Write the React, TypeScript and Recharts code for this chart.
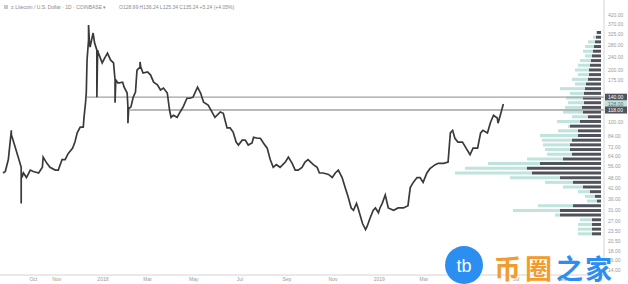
import React from "react";
import { ComposedChart, Line, XAxis, YAxis, ReferenceLine, BarChart, Bar } from "recharts";

// LTC/USD daily. Days counted from 1 Oct 2017.
// Repeated days are the long wicks (spike out and back).
const days = [
  -40, -37, -33, -29, -29, -26, -24, -20, -16, -16,
  -16, -15, -13, -9, -4, 0, 7, 12, 13, 18,
  22, 29, 33, 38, 42, 46, 52, 55, 58, 62,
  66, 67, 69, 70, 71, 73, 73, 74, 75, 79,
  81, 84, 84, 85, 86, 91, 95, 98, 102, 106,
  108, 108, 109, 112, 118, 120, 124, 125, 125, 126,
  129, 132, 135, 137, 141, 141, 142, 145, 151, 155,
  159, 164, 168, 172, 177, 180, 182, 185, 190, 194,
  198, 203, 207, 211, 217, 221, 225, 231, 236, 240,
  247, 251, 256, 260, 264, 268, 271, 276, 280, 284,
  289, 291, 296, 300, 304, 309, 313, 317, 321, 326,
  333, 337, 342, 346, 350, 355, 359, 363, 370, 375,
  378, 383, 390, 395, 399, 403, 408, 412, 416, 420,
  423, 427, 429, 435, 439, 441, 445, 449, 452, 456,
  458, 461, 465, 469, 476, 482, 489, 495, 498, 502,
  507, 511, 515, 520, 524, 531, 535, 542, 548, 551,
  554, 557, 561, 567, 571, 577, 581, 587, 591, 594,
  600, 604, 608, 613, 614, 617, 621,
];
const closes = [
  51, 52, 61, 90, 85, 77, 72, 63, 55, 34,
  52, 48, 51, 48, 53, 52, 51, 55, 63, 58,
  55, 53, 53, 61, 61, 66, 71, 77, 87, 94,
  94, 107, 130, 148, 230, 300, 366, 300, 273, 329,
  288, 262, 140, 262, 252, 221, 239, 252, 230, 221,
  176, 130, 176, 169, 171, 160, 148, 123, 99, 120,
  123, 140, 150, 201, 209, 224, 209, 193, 196, 188,
  171, 165, 154, 158, 148, 118, 107, 110, 107, 115,
  123, 138, 138, 140, 160, 148, 131, 126, 115, 107,
  115, 113, 93, 93, 88, 77, 74, 79, 79, 74,
  76, 82, 81, 81, 76, 71, 61, 55, 57, 55,
  59, 63, 58, 53, 53, 55, 59, 61, 57, 55,
  51, 51, 50, 48, 51, 53, 48, 42, 37, 32,
  31, 34, 32, 26, 24, 25, 28, 31, 32, 30,
  32, 34, 38, 32, 31, 32, 32, 33, 42, 45,
  48, 48, 45, 51, 54, 57, 58, 58, 59, 87,
  90, 81, 77, 77, 72, 65, 71, 71, 87, 90,
  87, 100, 110, 106, 99, 110, 128,
];

const monthTicks = [0, 31, 92, 151, 212, 273, 335, 396, 457, 516, 577, 638, 700];
const monthLabels = ["Oct", "Nov", "2018", "Mar", "May", "Jul", "Sep", "Nov", "2019", "Mar", "May", "Jul", "Sep"];

const levelHigh = 140;
const levelLow = 118;
const levelHighFrom = 71;
const levelLowFrom = 128;
const lastClose = closes[closes.length - 1];

const priceTicks = [
  420, 370, 325, 280, 240, 200, 175, levelHigh, lastClose, levelLow, 100, 84, 72, 64,
  56, 48, 42, 36, 31, 27, 23.5, 20.5, 18, 16, 14,
];

// volume profile rows, top (high price) to bottom
const profileDown = [
  4, 5, 6, 7, 8, 9, 10, 11, 12, 12,
  13, 15, 16, 17, 18, 17, 19, 18, 13, 21,
  31, 23, 23, 29, 31, 31, 29, 38, 61, 74,
  69, 41, 28, 18, 11, 6, 4, 28, 41, 41,
  9, 9, 9, 9,
];
const profileUp = [
  1, 3, 7, 9, 10, 7, 11, 12, 14, 11,
  16, 11, 25, 14, 17, 16, 17, 20, 16, 23,
  2, 20, 38, 30, 27, 25, 25, 36, 52, 62,
  77, 50, 28, 20, 12, 10, 10, 35, 47, 5,
  12, 14, 14, 14,
];

const series = days.map((d, i) => ({ d, close: closes[i] }));
const profile = profileDown.map((v, i) => ({ bin: i, down: v, up: profileUp[i] }));

const DARK = "#50535b";
const TEAL = "#bfe3dd";
const FONT = "'Liberation Sans', Arial, sans-serif";

function PriceTick(props: any) {
  const { x, y, payload } = props;
  const v = payload.value as number;
  const text = v.toFixed(2);
  if (v === levelHigh || v === levelLow || v === lastClose) {
    const teal = v === lastClose;
    return (
      <g>
        <rect x={x - 2} y={y - 3.5} width={22} height={7} fill={teal ? TEAL : DARK} />
        <text x={x + 1} y={y + 2} fontSize={5} fill={teal ? "#5d6b69" : "#fff"} fontFamily={FONT}>
          {text}
        </text>
      </g>
    );
  }
  return (
    <text x={x + 1} y={y + 2} fontSize={5} fill="#9a9a9a" fontFamily={FONT}>
      {text}
    </text>
  );
}

export default function App() {
  return (
    <div
      style={{
        position: "absolute",
        left: 0,
        top: 0,
        width: 628,
        height: 284,
        overflow: "hidden",
        background: "#fff",
        fontFamily: FONT,
      }}
    >
      <div style={{ position: "absolute", left: 401, top: 30 }}>
        <BarChart
          layout="vertical"
          width={200}
          height={206}
          data={profile}
          margin={{ top: 0, right: 0, bottom: 0, left: 0 }}
          barCategoryGap={1}
        >
          <XAxis type="number" domain={[0, 200]} reversed hide />
          <YAxis type="category" dataKey="bin" hide />
          <Bar dataKey="down" stackId="v" fill={DARK} isAnimationActive={false} />
          <Bar dataKey="up" stackId="v" fill={TEAL} isAnimationActive={false} />
        </BarChart>
      </div>

      <div style={{ position: "absolute", left: 0, top: 0 }}>
        <ComposedChart width={628} height={284} data={series} margin={{ top: 0, right: 0, bottom: 0, left: 0 }}>
          <XAxis
            dataKey="d"
            type="number"
            domain={[-44, 754]}
            allowDataOverflow
            ticks={monthTicks}
            interval={0}
            tickFormatter={(v: number) => monthLabels[monthTicks.indexOf(v)] ?? ""}
            height={9}
            axisLine={{ stroke: "#d4d4d4" }}
            tickLine={false}
            tickSize={0}
            tickMargin={2}
            tick={{ fontSize: 5, fill: "#9a9a9a", fontFamily: FONT }}
          />
          <YAxis
            orientation="right"
            type="number"
            scale="log"
            domain={[13.1, 511]}
            allowDataOverflow
            ticks={priceTicks}
            interval={0}
            width={24}
            axisLine={{ stroke: "#d4d4d4" }}
            tickLine={false}
            tickSize={0}
            tickMargin={3}
            tick={<PriceTick />}
          />
          <ReferenceLine
            segment={[
              { x: levelHighFrom, y: levelHigh },
              { x: 754, y: levelHigh },
            ]}
            stroke="#a2a2a2"
            strokeWidth={1.3}
          />
          <ReferenceLine
            segment={[
              { x: levelLowFrom, y: levelLow },
              { x: 754, y: levelLow },
            ]}
            stroke="#a2a2a2"
            strokeWidth={1.3}
          />
          <Line
            dataKey="close"
            type="linear"
            stroke="#3a3a3a"
            strokeWidth={1.7}
            dot={false}
            activeDot={false}
            isAnimationActive={false}
          />
        </ComposedChart>
      </div>

      <svg width={628} height={284} style={{ position: "absolute", left: 0, top: 0, pointerEvents: "none" }}>
        <rect x={4} y={5} width={4} height={4} fill="#c8c8c8" />
        <text x={11} y={9} fontSize={5} fill="#8a8a8a" fontFamily={FONT}>
          ≡ Litecoin / U.S. Dollar · 1D · COINBASE ▾
        </text>
        <text x={119} y={9} fontSize={5} fill="#8a8a8a" fontFamily={FONT}>
          O128.99 H136.24 L125.34 C135.24 +5.24 (+4.05%)
        </text>
        <circle cx={464} cy={265} r={19} fill="#2b8ef0" />
        <text x={464} y={272} textAnchor="middle" fontSize={18} fill="#fff" fontFamily={FONT}>
          tb
        </text>
        <g fontFamily="'Noto Sans CJK SC', sans-serif" fontWeight={700} fontSize={27}>
          <text x={494} y={279} fill="#f39c2d">币</text>
          <text x={525} y={279} fill="#f39c2d">圈</text>
          <text x={556} y={279} fill="#2b8ef0">之</text>
          <text x={585} y={279} fill="#2b8ef0">家</text>
        </g>
      </svg>
    </div>
  );
}
